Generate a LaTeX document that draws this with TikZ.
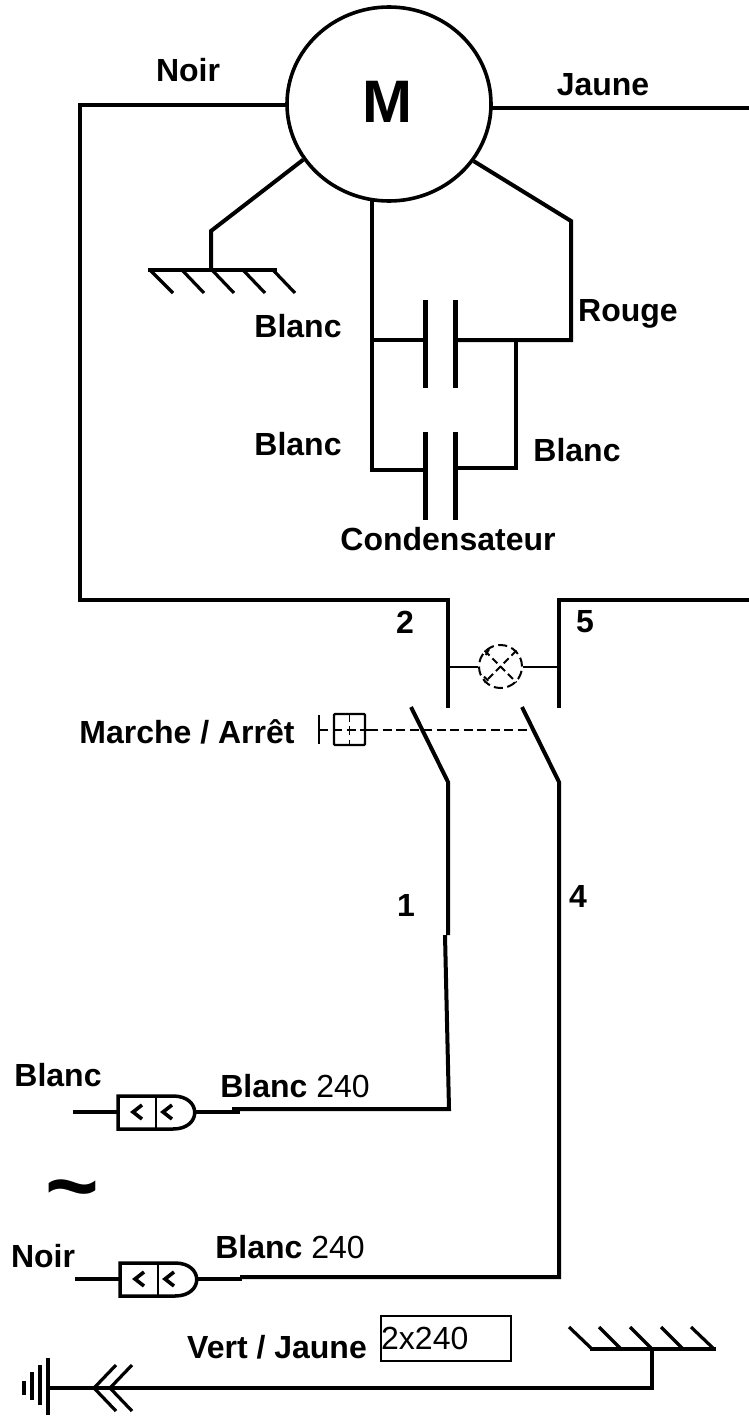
\documentclass[tikz,border=0pt]{standalone}
\usepackage{fontspec}
\setmainfont{Liberation Sans}
\usetikzlibrary{shapes.geometric}
\tikzset{
  wire/.style={line width=4pt, line join=miter, line cap=rect},
  hair/.style={line width=2pt},
  dashwire/.style={line width=1.9pt, dash pattern=on 9pt off 4.5pt},
  lbl/.style={font=\fontsize{32}{32}\selectfont\bfseries, inner sep=0pt},
  plate/.style={line width=5pt},
  plug/.pic={
    \draw[line width=3.5pt, line join=miter] (0,-16) -- (55,-16) .. controls (84,-16) and (84,17) .. (55,17) -- (0,17) -- cycle;
    \draw[line width=2pt] (38,-16) -- (38,17);
    \draw[line width=3.6pt] (24,-7) -- (15,0) -- (24,7);
    \draw[line width=3.6pt] (54,-7) -- (45,0) -- (54,7);
  }
}
\begin{document}
\begin{tikzpicture}[x=1pt, y=-1pt]
  \useasboundingbox (0,0) rectangle (748,1416);

  % motor
  \node[ellipse, draw, line width=3.6pt, minimum width=204pt, minimum height=194pt, inner sep=0pt] (M) at (389,104) {};
  \node[inner sep=0pt, font=\fontsize{60}{60}\selectfont\bfseries] (Mtxt) at (387,102) {M};
  \coordinate (noirTop) at (80,105);
  \coordinate (noirBot) at (80,600);
  \coordinate (sw2Top) at (448,600);
  \coordinate (sw2Bot) at (448,706);
  \coordinate (jauneEnd) at (748,108);
  \draw[wire] (M.west |- noirTop) -- (noirTop) -- (noirBot) -- (sw2Top) -- (sw2Bot);
  \draw[wire] (M.east |- jauneEnd) -- (jauneEnd);

  % earth under the motor
  \coordinate (gndKnee) at (211,231);
  \coordinate (gndBar) at (211,270);
  \coordinate (gndL) at (150,270);
  \coordinate (gndR) at (275,270);
  \draw[wire, line cap=butt] (M.213) -- (gndKnee) -- (gndBar);
  \draw[wire, line width=3.4pt] (gndL) -- (gndR);
  \draw[line width=3.2pt] (150,270) -- (173,293);
  \draw[line width=3.2pt] (182,270) -- (204,293);
  \draw[line width=3.2pt] (212,270) -- (234,293);
  \draw[line width=3.2pt] (243,270) -- (265,293);
  \draw[line width=3.2pt] (273,270) -- (295,293);

  % capacitors
  \coordinate (rougeKnee) at (571,221);
  \coordinate (rougeEnd) at (571,340);
  \coordinate (capTop) at (372,200);
  \coordinate (capBus) at (372,340);
  \coordinate (capLow) at (372,470);
  \coordinate (cap1L) at (425,340);
  \coordinate (cap1R) at (455,340);
  \coordinate (cap2L) at (425,470);
  \coordinate (cap2R) at (455,468);
  \coordinate (busR) at (516,340);
  \coordinate (busLow) at (516,468);
  \draw[wire, line cap=butt] (M.326) -- (rougeKnee) -- (rougeEnd) -- (cap1R);
  \draw[wire, line cap=butt] (capTop) -- (capLow) -- (cap2L);
  \draw[wire] (capBus) -- (cap1L);
  \draw[wire] (busR) -- (busLow) -- (cap2R);
  \draw[plate] (425,300) -- (425,388);
  \draw[plate] (455,300) -- (455,388);
  \draw[plate] (425,432) -- (425,520);
  \draw[plate] (455,432) -- (455,520);

  % switch and lamp
  \coordinate (sw5Top) at (559,600);
  \coordinate (sw5Bot) at (559,706);
  \coordinate (lineR) at (748,600);
  \draw[wire] (lineR) -- (sw5Top) -- (sw5Bot);
  \node[circle, draw, line width=2pt, dash pattern=on 9pt off 4.5pt, minimum size=43pt, inner sep=0pt] (lamp) at (500.5,666.5) {};
  \draw[hair] (sw2Top |- lamp) -- (lamp.west);
  \draw[hair] (lamp.east) -- (sw5Top |- lamp);
  \draw[line width=2pt, dash pattern=on 7pt off 4pt] (lamp.135) -- (lamp.-45);
  \draw[line width=2pt, dash pattern=on 7pt off 4pt] (lamp.45) -- (lamp.-135);
  \draw[line width=2pt] (485.7,655) -- (489,649.3);
  \draw[line width=2pt] (484,676.7) -- (488.3,680.7);

  \coordinate (blade1A) at (411,707);
  \coordinate (blade1B) at (448,782);
  \coordinate (blade2A) at (522,707);
  \coordinate (blade2B) at (559,782);
  \coordinate (wire1Mid) at (448,935);
  \coordinate (wire1Low) at (445,935);
  \coordinate (wire1End) at (449,1109);
  \coordinate (wire1Plug) at (232,1109);
  \coordinate (wire4End) at (559,1277);
  \coordinate (wire4Plug) at (240,1277);
  \draw[wire, line cap=butt] (blade1A) -- (blade1B) -- (wire1Mid);
  \draw[wire, line cap=butt] (blade2A) -- (blade2B) -- (wire4End) -- (wire4Plug);
  \draw[wire, line cap=butt] (wire1Low) -- (wire1End) -- (wire1Plug);

  % push button
  \node[draw, line width=2.2pt, rounded corners=1pt, minimum size=31pt, inner sep=0pt] (btn) at (349.5,729.5) {};
  \coordinate (btnLink) at (527,730);
  \coordinate (btnBar) at (319,730);
  \coordinate (btnW) at (333,730);
  \coordinate (btnE) at (369,730);
  \draw[dashwire] (btnE) -- (btnLink);
  \draw[hair] (319,715) -- (319,744);
  \draw[hair] (btnBar) -- (328,730);
  \draw[dashwire] (btnW) -- (btnE);
  \draw[dashwire] (btn.north) -- (btn.south);

  % plugs
  \pic at (118,1112) {plug};
  \pic at (120,1279) {plug};
  \coordinate (plug1L) at (73,1112);
  \coordinate (plug1A) at (118,1112);
  \coordinate (plug1B) at (195,1112);
  \coordinate (plug1R) at (240,1112);
  \coordinate (plug2L) at (75,1279);
  \coordinate (plug2A) at (120,1279);
  \coordinate (plug2B) at (197,1279);
  \coordinate (plug2R) at (242,1279);
  \draw[wire, line cap=butt] (plug1L) -- (plug1A);
  \draw[wire, line cap=butt] (plug1B) -- (plug1R);
  \draw[wire, line cap=butt] (plug2L) -- (plug2A);
  \draw[wire, line cap=butt] (plug2B) -- (plug2R);

  % earth line at the bottom
  \coordinate (pe1) at (48,1388);
  \coordinate (pe2) at (652,1388);
  \coordinate (pe3) at (652,1349);
  \coordinate (peL) at (592,1349);
  \coordinate (peR) at (714,1349);
  \draw[wire, line cap=butt] (pe1) -- (pe2) -- (pe3);
  \draw[wire, line width=3.4pt] (peL) -- (peR);
  \draw[line width=3.2pt] (592,1349) -- (569,1327);
  \draw[line width=3.2pt] (621,1349) -- (599,1327);
  \draw[line width=3.2pt] (652,1349) -- (630,1327);
  \draw[line width=3.2pt] (683,1349) -- (661,1327);
  \draw[line width=3.2pt] (714,1349) -- (691,1327);
  \draw[line width=4pt] (48,1358) -- (48,1415);
  \draw[line width=3.4pt] (40,1365) -- (40,1405);
  \draw[line width=3.4pt] (32,1372) -- (32,1400);
  \draw[line width=3.4pt] (24,1381) -- (24,1395);
  \draw[line width=3.2pt] (116,1365) -- (94,1388) -- (116,1411);
  \draw[line width=3.2pt] (132,1365) -- (110,1388) -- (132,1411);

  % texts
  \node[lbl] (noirM) at (188,70) {Noir};
  \node[lbl] (jauneM) at (603,85) {Jaune};
  \node[lbl] (blanc1) at (298,326) {Blanc};
  \node[lbl] (rouge) at (628,314) {Rouge};
  \node[lbl] (blanc2) at (298,444) {Blanc};
  \node[lbl] (blanc3) at (577,450) {Blanc};
  \node[lbl] (cond) at (448,539) {Condensateur};
  \node[lbl] (two) at (405,622) {2};
  \node[lbl] (five) at (585,622) {5};
  \node[lbl] (marche) at (187,732) {Marche / Arrêt};
  \node[lbl] (one) at (406,905) {1};
  \node[lbl] (four) at (578,896) {4};
  \node[lbl] (blancA) at (58,1075) {Blanc};
  \node[lbl] (blancB) at (295,1086) {Blanc \mdseries 240};
  \node[lbl] (noirB) at (43,1256) {Noir};
  \node[lbl] (blancC) at (290,1247) {Blanc \mdseries 240};
  \node[lbl] (vert) at (277,1347) {Vert / Jaune};
  \node[inner sep=0pt, font=\fontsize{92}{92}\selectfont\bfseries] (tilde) at (72,1199) {\char`\~};
  \node[draw, line width=1.3pt, minimum width=130pt, minimum height=45pt, inner sep=0pt] (box) at (446,1338.5) {};
  \node[inner sep=0pt, font=\fontsize{32}{32}\selectfont, anchor=west] (boxt) at (381,1338) {2x240};
\end{tikzpicture}
\end{document}
